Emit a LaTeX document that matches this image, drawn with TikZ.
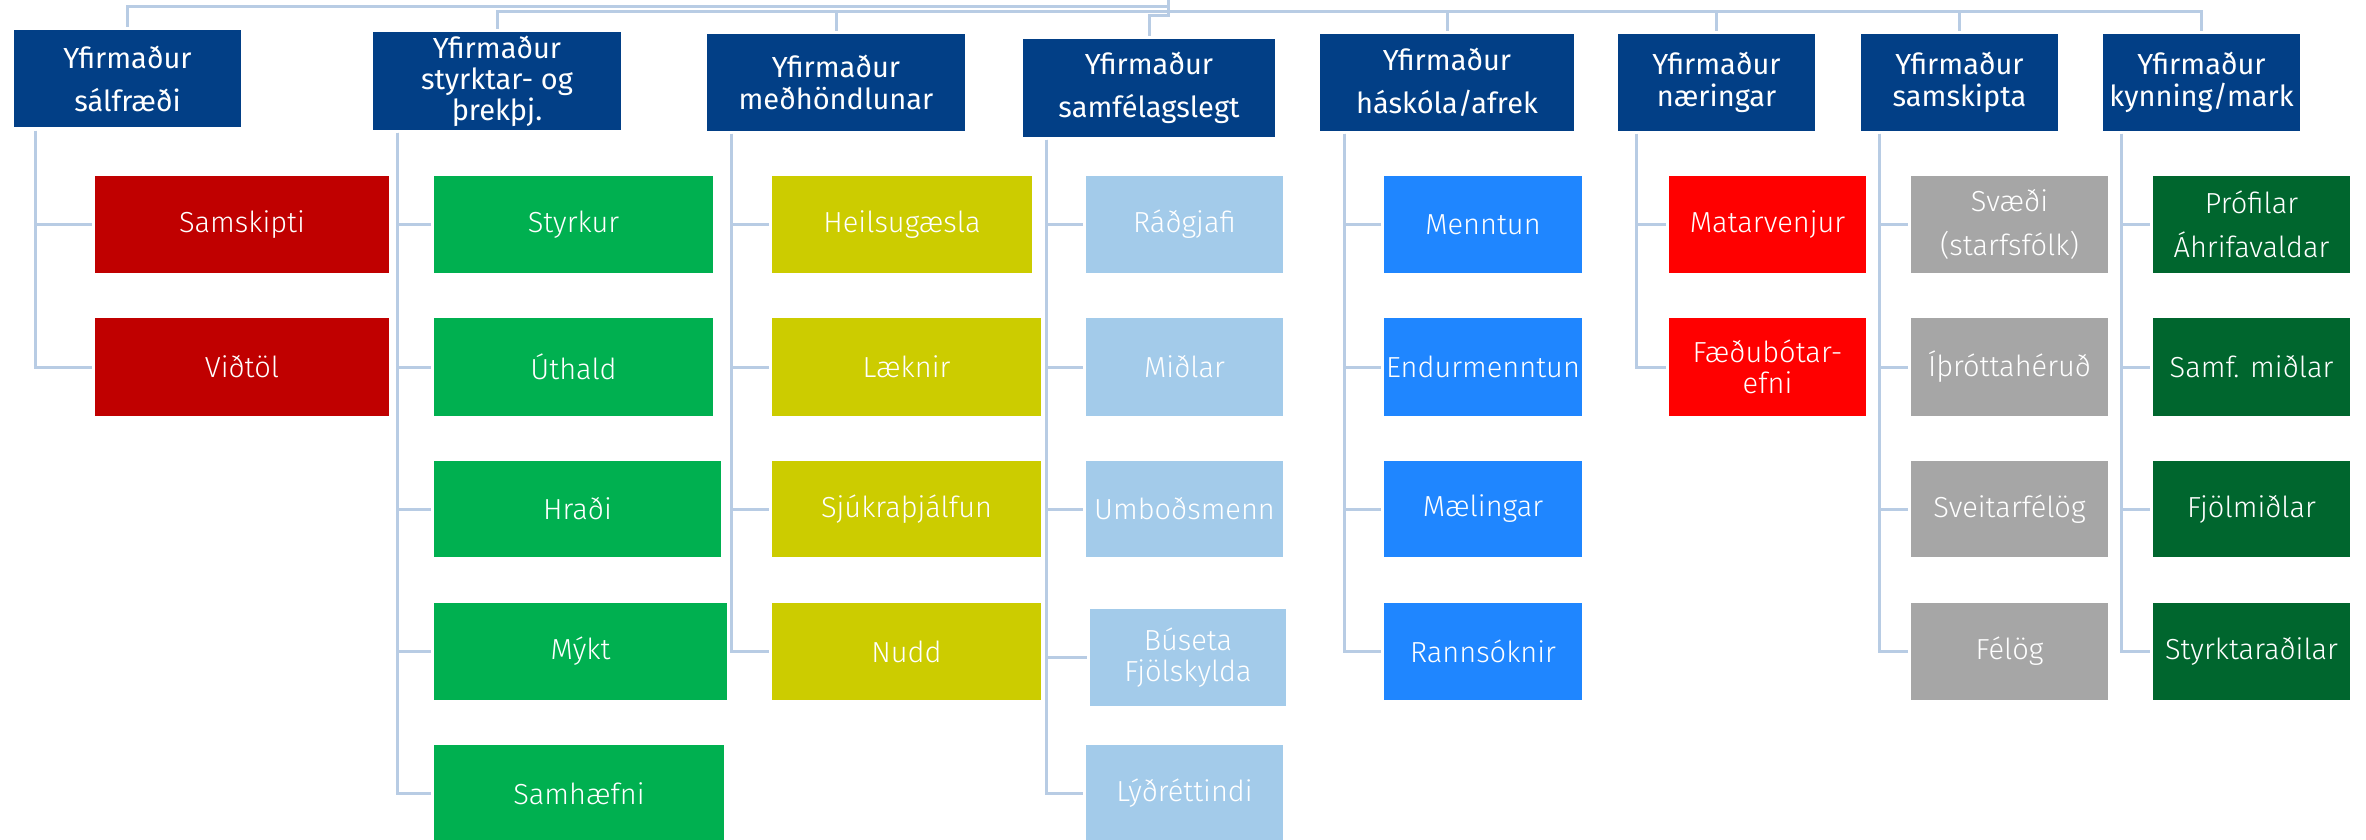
\documentclass[tikz,border=0pt]{standalone}
\usepackage{fontspec}
\setmainfont{Fira Sans}
\newfontfamily\lightfont{Fira Sans Light}
\definecolor{hdr}{HTML}{023F86}
\definecolor{redA}{HTML}{C00000}
\definecolor{grn}{HTML}{00B050}
\definecolor{ylw}{HTML}{CCCC00}
\definecolor{ltblue}{HTML}{A3CBEA}
\definecolor{blu}{HTML}{1F86FF}
\definecolor{redB}{HTML}{FF0000}
\definecolor{gry}{HTML}{A6A6A6}
\definecolor{dkgrn}{HTML}{00662E}
\definecolor{lineblue}{HTML}{B8CCE4}
\tikzset{
  hbox/.style={rectangle, inner sep=0pt, fill=hdr, text=white, align=center,
    font=\fontsize{29}{31}\selectfont},
  cbox/.style={rectangle, inner sep=0pt, text=white, align=center,
    font=\lightfont\fontsize{29}{31}\selectfont},
  conn/.style={draw=lineblue, line width=3pt}
}
\newcommand\mkhead[6]{%
  \node[hbox, minimum width={(#4-#2)*1pt}, minimum height={(#5-#3)*1pt}] (#1) at ({(#2+#4)/2},{(#3+#5)/2}) {#6};}
\newcommand\mkbox[7]{%
  \node[cbox, fill=#6, minimum width={(#4-#2)*1pt}, minimum height={(#5-#3)*1pt}] (#1) at ({(#2+#4)/2},{(#3+#5)/2}) {#7};}
\begin{document}
\begin{tikzpicture}[x=1pt,y=-1pt]
\fill[white] (0,0) rectangle (2366,840);
\useasboundingbox (0,0) rectangle (2366,840);

% headers
\mkhead{h1}{14}{30}{241}{127}{Yfirmaður\\[12pt]sálfræði}
\mkhead{h2}{373}{32}{621}{130}{Yfirmaður\\styrktar- og\\þrekþj.}
\mkhead{h3}{707}{34}{965}{131}{Yfirmaður\\[1pt]meðhöndlunar}
\mkhead{h4}{1023}{39}{1275}{137}{Yfirmaður\\[12pt]samfélagslegt}
\mkhead{h5}{1320}{34}{1574}{131}{Yfirmaður\\[12pt]háskóla/afrek}
\mkhead{h6}{1618}{34}{1815}{131}{Yfirmaður\\[1pt]næringar}
\mkhead{h7}{1861}{34}{2058}{131}{Yfirmaður\\[1pt]samskipta}
\mkhead{h8}{2103}{34}{2300}{131}{Yfirmaður\\[1pt]kynning/mark}

% column 1
\mkbox{a1}{95}{176}{389}{273}{redA}{Samskipti}
\mkbox{a2}{95}{318}{389}{416}{redA}{Viðtöl}
% column 2
\mkbox{b1}{434}{176}{713}{273}{grn}{Styrkur}
\mkbox{b2}{434}{318}{713}{416}{grn}{Úthald}
\mkbox{b3}{434}{461}{721}{557}{grn}{Hraði}
\mkbox{b4}{434}{603}{727}{700}{grn}{Mýkt}
\mkbox{b5}{434}{745}{724}{842}{grn}{Samhæfni}
% column 3
\mkbox{c1}{772}{176}{1032}{273}{ylw}{Heilsugæsla}
\mkbox{c2}{772}{318}{1041}{416}{ylw}{Læknir}
\mkbox{c3}{772}{461}{1041}{557}{ylw}{Sjúkraþjálfun}
\mkbox{c4}{772}{603}{1041}{700}{ylw}{Nudd}
% column 4
\mkbox{d1}{1086}{176}{1283}{273}{ltblue}{Ráðgjafi}
\mkbox{d2}{1086}{318}{1283}{416}{ltblue}{Miðlar}
\mkbox{d3}{1086}{461}{1283}{557}{ltblue}{Umboðsmenn}
\mkbox{d4}{1090}{609}{1286}{706}{ltblue}{Búseta\\Fjölskylda}
\mkbox{d5}{1086}{745}{1283}{842}{ltblue}{Lýðréttindi}
% column 5
\mkbox{e1}{1384}{176}{1582}{273}{blu}{Menntun}
\mkbox{e2}{1384}{318}{1582}{416}{blu}{Endurmenntun}
\mkbox{e3}{1384}{461}{1582}{557}{blu}{Mælingar}
\mkbox{e4}{1384}{603}{1582}{700}{blu}{Rannsóknir}
% column 6
\mkbox{f1}{1669}{176}{1866}{273}{redB}{Matarvenjur}
\mkbox{f2}{1669}{318}{1866}{416}{redB}{Fæðubótar-\\efni}
% column 7
\mkbox{g1}{1911}{176}{2108}{273}{gry}{Svæði\\[13pt](starfsfólk)}
\mkbox{g2}{1911}{318}{2108}{416}{gry}{Íþróttahéruð}
\mkbox{g3}{1911}{461}{2108}{557}{gry}{Sveitarfélög}
\mkbox{g4}{1911}{603}{2108}{700}{gry}{Félög}
% column 8
\mkbox{k1}{2153}{176}{2350}{273}{dkgrn}{Prófilar\\[13pt]Áhrifavaldar}
\mkbox{k2}{2153}{318}{2350}{416}{dkgrn}{Samf. miðlar}
\mkbox{k3}{2153}{461}{2350}{557}{dkgrn}{Fjölmiðlar}
\mkbox{k4}{2153}{603}{2350}{700}{dkgrn}{Styrktaraðilar}

% top connectors
\coordinate (root) at (1168,0);
\draw[conn] (root) -- ++(0,7) -| ([yshift=3pt]h1.north);
\foreach \h in {h2,h3,h5,h6,h7,h8}
  \draw[conn] (root) -- ++(0,12) -| ([yshift=3pt]\h.north);
\draw[conn] (root) -- ++(0,16) -| ([yshift=3pt]h4.north);

% column trunks
\coordinate (t1) at (35,131);
\coordinate (t2) at (397,133);
\coordinate (t3) at (731,134);
\coordinate (t4) at (1046,140);
\coordinate (t5) at (1344,134);
\coordinate (t6) at (1636,134);
\coordinate (t7) at (1879,134);
\coordinate (t8) at (2121,134);
\foreach \n in {a1,a2} \draw[conn] (t1) |- ([xshift=-3pt]\n.west);
\foreach \n in {b1,b2,b3,b4,b5} \draw[conn] (t2) |- ([xshift=-3pt]\n.west);
\foreach \n in {c1,c2,c3,c4} \draw[conn] (t3) |- ([xshift=-3pt]\n.west);
\foreach \n in {d1,d2,d3,d4,d5} \draw[conn] (t4) |- ([xshift=-3pt]\n.west);
\foreach \n in {e1,e2,e3,e4} \draw[conn] (t5) |- ([xshift=-3pt]\n.west);
\foreach \n in {f1,f2} \draw[conn] (t6) |- ([xshift=-3pt]\n.west);
\foreach \n in {g1,g2,g3,g4} \draw[conn] (t7) |- ([xshift=-3pt]\n.west);
\foreach \n in {k1,k2,k3,k4} \draw[conn] (t8) |- ([xshift=-3pt]\n.west);
\end{tikzpicture}
\end{document}
